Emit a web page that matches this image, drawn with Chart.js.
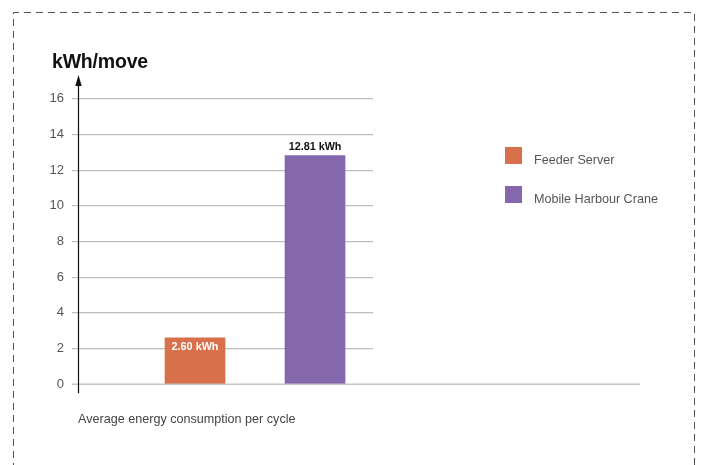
<!DOCTYPE html>
<html>
<head>
<meta charset="utf-8">
<script src="https://cdn.jsdelivr.net/npm/chart.js@4.4.1/dist/chart.umd.min.js"></script>
<style>
  html, body { margin: 0; padding: 0; background: #fff; }
  #wrap { position: relative; width: 701px; height: 465px; overflow: hidden; font-family: "Liberation Sans", Arial, Helvetica, sans-serif; }
  #chart { position: absolute; left: 0; top: 0; }
  .titulo { position: absolute; left: 52px; top: 50px; font-size: 19.5px; font-weight: bold; color: #111; letter-spacing: -0.2px; }
  .pie { position: absolute; left: 78px; top: 412px; font-size: 12.6px; color: #444; }
  .leyenda { position: absolute; left: 505px; top: 147px; }
  .item { position: relative; height: 39px; }
  .cuadro { position: absolute; left: 0; top: 0; width: 17px; height: 17px; }
  .texto { position: absolute; left: 29px; top: 6px; font-size: 12.6px; color: #555; white-space: nowrap; }
</style>
</head>
<body>
<div id="wrap">
  <canvas id="chart" width="701" height="465"></canvas>
  <div class="titulo">kWh/move</div>
  <div class="leyenda" id="leyenda"></div>
  <div class="pie">Average energy consumption per cycle</div>
</div>
<script>
// Datos
const categorias = ["Feeder Server", "Mobile Harbour Crane"];
const valores = [2.60, 12.81];
const etiquetas = ["2.60 kWh", "12.81 kWh"];
const colores = ["#d8714b", "#8467ad"];
const ticksY = [0, 2, 4, 6, 8, 10, 12, 14, 16];

// Leyenda en HTML
const leyendaDiv = document.getElementById('leyenda');
categorias.forEach((c, i) => {
    const item = document.createElement('div');
    item.className = 'item';
    item.innerHTML = `<span class="cuadro" style="background:${colores[i]}"></span><span class="texto">${c}</span>`;
    leyendaDiv.appendChild(item);
});

// Borde punteado, eje con flecha, línea base y etiquetas de barras
const decoracion = {
    id: 'decoracion',
    beforeDraw(chart) {
        const ctx = chart.ctx;
        ctx.save();
        ctx.strokeStyle = '#555';
        ctx.lineWidth = 1;
        ctx.setLineDash([7, 5]);
        ctx.beginPath();
        ctx.moveTo(13.5, 470);
        ctx.lineTo(13.5, 12.5);
        ctx.lineTo(694.5, 12.5);
        ctx.lineTo(694.5, 470);
        ctx.stroke();
        ctx.restore();
    },
    afterDatasetsDraw(chart) {
        const ctx = chart.ctx;
        const y = chart.scales.y;
        const area = chart.chartArea;
        const y0 = y.getPixelForValue(0);
        ctx.save();
        // línea base
        ctx.strokeStyle = '#c4c4c4';
        ctx.lineWidth = 1.6;
        ctx.beginPath();
        ctx.moveTo(area.left - 6, y0);
        ctx.lineTo(640, y0);
        ctx.stroke();
        // eje vertical con flecha
        const ax = Math.round(area.left) + 0.5;
        ctx.strokeStyle = '#111';
        ctx.lineWidth = 1.2;
        ctx.beginPath();
        ctx.moveTo(ax, y0 + 9);
        ctx.lineTo(ax, 84);
        ctx.stroke();
        ctx.fillStyle = '#111';
        ctx.beginPath();
        ctx.moveTo(ax, 75);
        ctx.lineTo(ax - 3.2, 86);
        ctx.lineTo(ax + 3.2, 86);
        ctx.closePath();
        ctx.fill();
        // etiquetas de valor
        const meta = chart.getDatasetMeta(0);
        ctx.font = 'bold 10.8px "Liberation Sans", Arial, sans-serif';
        ctx.textAlign = 'center';
        ctx.textBaseline = 'middle';
        meta.data.forEach((bar, i) => {
            if (i === 0) {
                ctx.fillStyle = '#fff';
                ctx.fillText(etiquetas[i], bar.x, bar.y + 9.5);
            } else {
                ctx.fillStyle = '#111';
                ctx.fillText(etiquetas[i], bar.x, bar.y - 9);
            }
        });
        ctx.restore();
    }
};

new Chart(document.getElementById('chart'), {
    type: 'bar',
    data: {
        datasets: [{
            data: valores.map((v, i) => ({ x: i + 1, y: v })),
            backgroundColor: colores,
            borderWidth: 0,
            barThickness: 60
        }]
    },
    options: {
        responsive: false,
        animation: false,
        events: [],
        layout: { padding: { left: 0, top: 98.7, right: 328, bottom: 80.7 } },
        plugins: { legend: { display: false }, tooltip: { enabled: false } },
        scales: {
            x: {
                type: 'linear',
                display: false,
                offset: false,
                min: 0.025,
                max: 2.483
            },
            y: {
                min: 0,
                max: 16,
                afterFit(scale) { scale.width = 78; },
                afterBuildTicks(scale) { scale.ticks = ticksY.map(v => ({ value: v })); },
                border: { display: false },
                grid: {
                    color: ctx => ctx.tick && ctx.tick.value === 0 ? 'rgba(0,0,0,0)' : '#bdbdbd',
                    lineWidth: 1.2,
                    tickLength: 6,
                    drawTicks: true
                },
                ticks: {
                    padding: 8,
                    color: '#555',
                    font: { family: '"Liberation Sans", Arial, sans-serif', size: 13 }
                }
            }
        }
    },
    plugins: [decoracion]
});
</script>
</body>
</html>
